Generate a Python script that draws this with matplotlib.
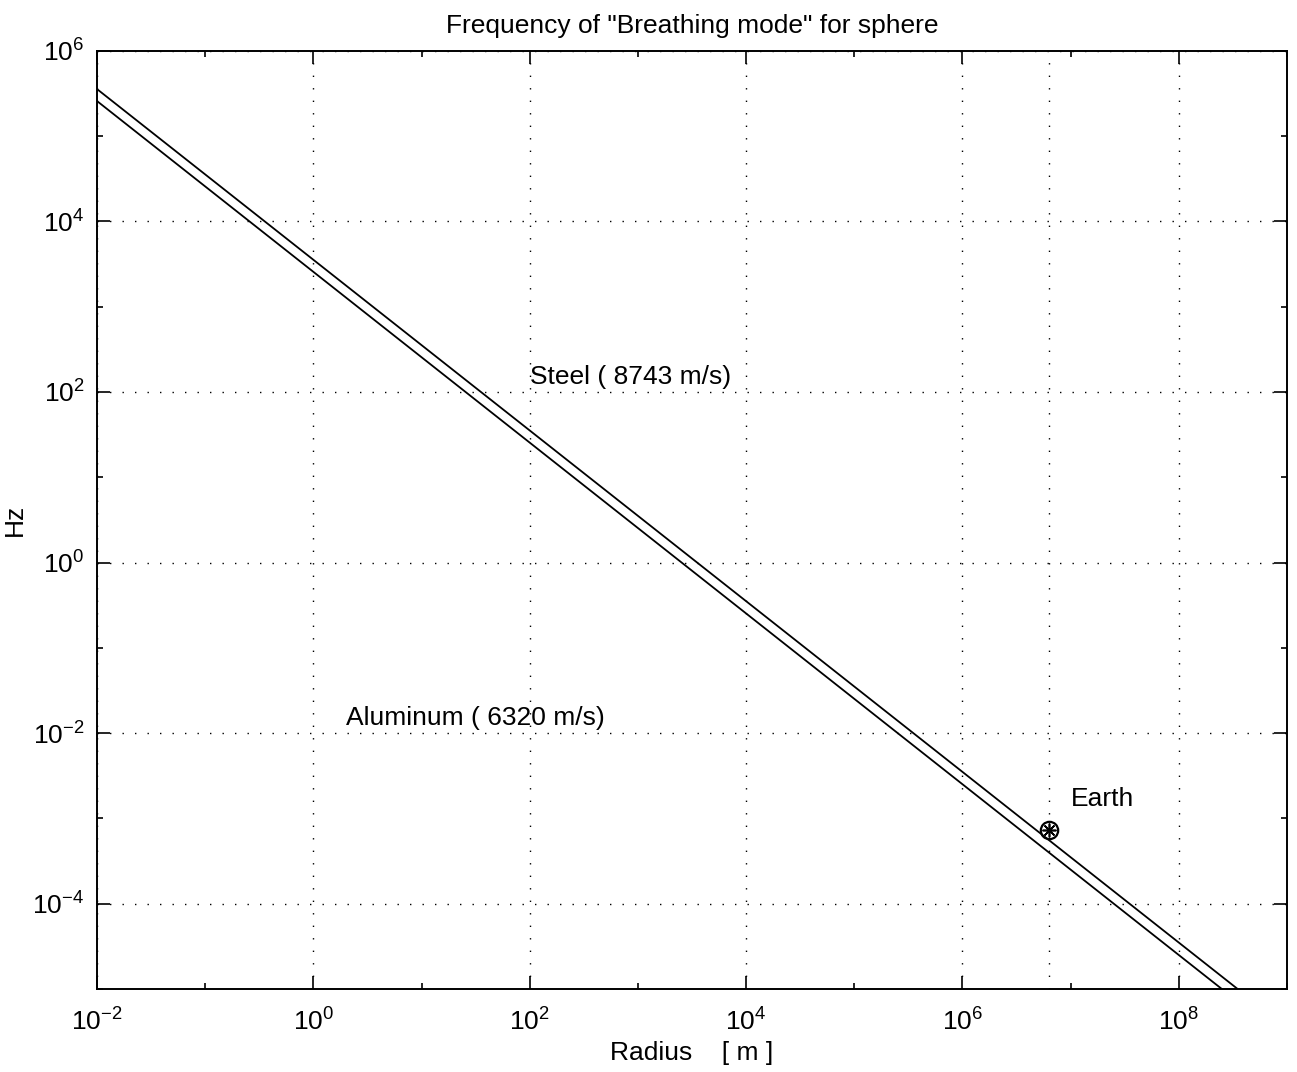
import matplotlib.pyplot as plt
from matplotlib.ticker import LogLocator, LogFormatterSciNotation, NullFormatter

###### data
# line end points (radius in m, frequency in Hz)
steel_r = [1e-2, 3.5e8]
steel_f = [3.55e5, 1e-5]
alu_r = [1e-2, 2.5e8]
alu_f = [2.57e5, 1e-5]

earth_r = 6.37e6
earth_f = 7.3e-4

labels = ["Steel ( 8743 m/s)", "Aluminum ( 6320 m/s)", "Earth"]
label_pos = [(1e2, 150), (2, 0.015), (1e7, 1.7e-3)]
###############

plt.rcParams['font.family'] = ['Liberation Sans', 'DejaVu Sans']
plt.rcParams['mathtext.default'] = 'regular'

fig = plt.figure(figsize=(12.97, 10.72), dpi=100)
ax = fig.add_axes([0.0748, 0.0774, 0.9175, 0.8753])

ax.loglog(steel_r, steel_f, color='black', lw=1.3)
ax.loglog(alu_r, alu_f, color='black', lw=1.3)

# earth: circle with a star in it
ax.plot([earth_r], [earth_f], marker='o', ms=12.5, mfc='none', mec='black', mew=1.6)
ax.plot([earth_r], [earth_f], marker=(8, 2, 0), ms=10, color='black', mew=1.2)
ax.axvline(earth_r, color='black', lw=1, ls=(0, (1, 8)))

for txt, (x, y) in zip(labels, label_pos):
    ax.text(x, y, txt, fontsize=19, ha='left', va='center')

ax.set_xlim(1e-2, 1e9)
ax.set_ylim(1e-5, 1e6)

# major ticks every two decades, short ticks in between
for axis in (ax.xaxis, ax.yaxis):
    axis.set_major_locator(LogLocator(base=100.0, numticks=20))
    axis.set_major_formatter(LogFormatterSciNotation(base=10.0))
    axis.set_minor_locator(LogLocator(base=10.0, subs=(1.0,), numticks=30))
    axis.set_minor_formatter(NullFormatter())

ax.tick_params(which='both', direction='in', top=True, right=True, labelsize=19)
ax.tick_params(which='major', length=9.5, width=1.2)
ax.tick_params(which='minor', length=4.5, width=1.2)
ax.tick_params(axis='x', which='major', pad=14)
ax.tick_params(axis='y', which='major', pad=9)

ax.grid(True, which='major', color='black', lw=1, ls=(0, (1, 8)))
for s in ax.spines.values():
    s.set_linewidth(1.4)

ax.set_title('Frequency of "Breathing mode" for sphere', fontsize=19, pad=13)
ax.set_xlabel('Radius    [ m ]', fontsize=19, labelpad=4)
ax.set_ylabel('Hz', fontsize=19, labelpad=4)

plt.savefig('out.png', dpi=100)
